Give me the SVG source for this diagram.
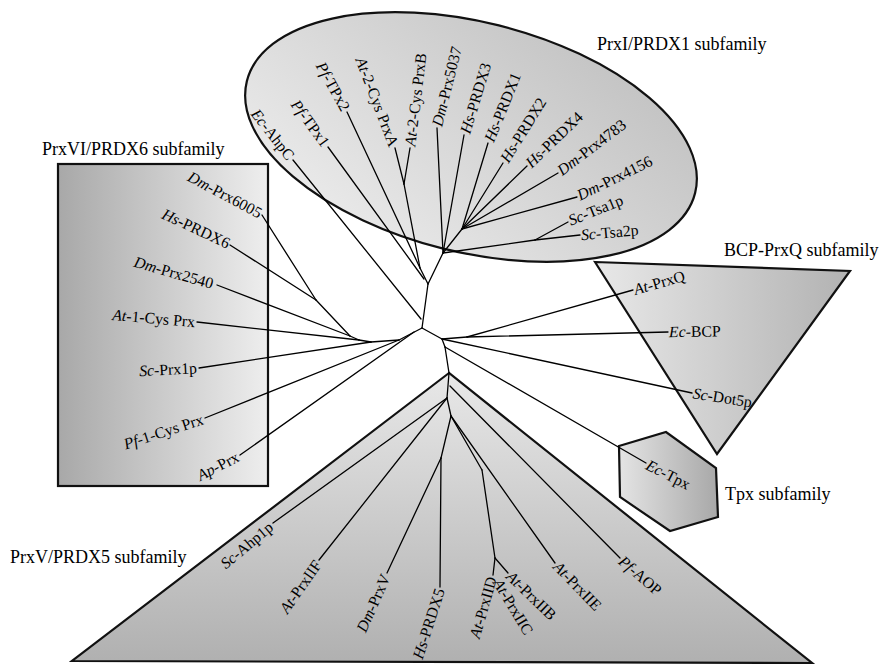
<svg xmlns="http://www.w3.org/2000/svg" width="885" height="667" viewBox="0 0 885 667">
<style>
text{font-family:"Liberation Serif","Times New Roman",serif;fill:#000}
.lf{font-size:15.8px}
.tt{font-size:18px}
.it{font-style:italic}
.shape{stroke:#111;stroke-width:2.2;stroke-linejoin:miter}
#connectors line{stroke:#000;stroke-width:1.3;fill:none;stroke-linecap:round}
</style>
<defs>
<linearGradient id="gEll" x1="0" y1="1" x2="1" y2="0"><stop offset="0" stop-color="#f0f0f0"/><stop offset="1" stop-color="#bdbdbd"/></linearGradient>
<linearGradient id="gBox" x1="0" y1="0" x2="1" y2="0"><stop offset="0" stop-color="#a8a8a8"/><stop offset="1" stop-color="#eeeeee"/></linearGradient>
<linearGradient id="gTri" x1="0" y1="0" x2="1" y2="0"><stop offset="0" stop-color="#e8e8e8"/><stop offset="1" stop-color="#b2b2b2"/></linearGradient>
<linearGradient id="gHex" x1="0" y1="0" x2="1" y2="0"><stop offset="0" stop-color="#e4e4e4"/><stop offset="1" stop-color="#a8a8a8"/></linearGradient>
<linearGradient id="gBot" x1="0" y1="0" x2="0" y2="1"><stop offset="0" stop-color="#e8e8e8"/><stop offset="1" stop-color="#b0b0b0"/></linearGradient>
</defs>

<g id="prx1-group">
<ellipse class="shape" cx="471" cy="137" rx="231" ry="115" transform="rotate(14 471 137)" fill="url(#gEll)"/>
<text class="tt" x="597" y="50">PrxI/PRDX1 subfamily</text>
</g>
<g id="prx6-group">
<rect class="shape" x="58" y="164" width="210" height="322" fill="url(#gBox)" stroke-width="2.6"/>
<text class="tt" x="42" y="155">PrxVI/PRDX6 subfamily</text>
</g>
<g id="bcp-group">
<polygon class="shape" points="595,262 850,271 717,454" fill="url(#gTri)"/>
<text class="tt" x="724" y="256">BCP-PrxQ subfamily</text>
</g>
<g id="tpx-group">
<polygon class="shape" points="619,446 666,432 716,468 718,517 670,531 620,497" fill="url(#gHex)"/>
<text class="tt" x="725" y="500">Tpx subfamily</text>
</g>
<g id="prx5-group">
<polygon class="shape" points="449,373 72,661 812,663" fill="url(#gBot)"/>
<text class="tt" x="10" y="563">PrxV/PRDX5 subfamily</text>
</g>

<g id="connectors">
<line x1="422" y1="328" x2="428" y2="284"/>
<line x1="293" y1="160" x2="421" y2="319"/>
<line x1="328" y1="147" x2="424" y2="279"/>
<line x1="347" y1="112" x2="420" y2="268"/>
<line x1="395" y1="148" x2="404" y2="184"/>
<line x1="410" y1="148" x2="404" y2="184"/>
<line x1="404" y1="184" x2="420" y2="268"/>
<line x1="420" y1="268" x2="428" y2="284"/>
<line x1="428" y1="284" x2="443" y2="253"/>
<line x1="443" y1="253" x2="437" y2="128"/>
<line x1="443" y1="253" x2="464" y2="135"/>
<line x1="443" y1="253" x2="462" y2="229"/>
<line x1="462" y1="229" x2="488" y2="143"/>
<line x1="462" y1="229" x2="503" y2="163"/>
<line x1="462" y1="229" x2="527" y2="166"/>
<line x1="462" y1="229" x2="558" y2="173"/>
<line x1="462" y1="229" x2="577" y2="197"/>
<line x1="443" y1="253" x2="535" y2="240"/>
<line x1="535" y1="240" x2="580" y2="235"/>
<line x1="535" y1="240" x2="568" y2="222"/>
<line x1="422" y1="328" x2="399" y2="340"/>
<line x1="399" y1="340" x2="371" y2="342"/>
<line x1="371" y1="342" x2="359" y2="340"/>
<line x1="359" y1="340" x2="350" y2="336"/>
<line x1="350" y1="336" x2="316" y2="300"/>
<line x1="316" y1="300" x2="262" y2="215"/>
<line x1="316" y1="300" x2="230" y2="245"/>
<line x1="350" y1="336" x2="217" y2="285"/>
<line x1="359" y1="340" x2="197" y2="322"/>
<line x1="371" y1="342" x2="199" y2="368"/>
<line x1="399" y1="340" x2="205" y2="418"/>
<line x1="414" y1="332" x2="240" y2="455"/>
<line x1="422" y1="328" x2="442" y2="339"/>
<line x1="442" y1="339" x2="467" y2="337"/>
<line x1="467" y1="337" x2="668" y2="332"/>
<line x1="467" y1="337" x2="633" y2="290"/>
<line x1="442" y1="339" x2="692" y2="393"/>
<line x1="442" y1="339" x2="445" y2="347"/>
<line x1="445" y1="347" x2="646" y2="463"/>
<line x1="445" y1="347" x2="449" y2="373"/>
<line x1="449" y1="373" x2="447" y2="398"/>
<line x1="450" y1="386" x2="620" y2="558"/>
<line x1="447" y1="398" x2="273" y2="523"/>
<line x1="447" y1="398" x2="319" y2="560"/>
<line x1="447" y1="398" x2="451" y2="416"/>
<line x1="451" y1="416" x2="555" y2="563"/>
<line x1="451" y1="416" x2="482" y2="470"/>
<line x1="451" y1="416" x2="441" y2="458"/>
<line x1="441" y1="458" x2="387" y2="573"/>
<line x1="441" y1="458" x2="440" y2="587"/>
<line x1="482" y1="470" x2="495" y2="558"/>
<line x1="495" y1="558" x2="493" y2="575"/>
<line x1="495" y1="558" x2="508" y2="573"/>
</g>

<g id="labels">
<text class="lf" text-anchor="end" transform="translate(291,158) rotate(52)" dy="0.33em"><tspan class="it">Ec</tspan>-AhpC</text>
<text class="lf" text-anchor="end" transform="translate(326,145) rotate(54)" dy="0.33em"><tspan class="it">Pf</tspan>-TPx1</text>
<text class="lf" text-anchor="end" transform="translate(346,110) rotate(61)" dy="0.33em"><tspan class="it">Pf</tspan>-TPx2</text>
<text class="lf" text-anchor="end" transform="translate(394,146) rotate(69)" dy="0.33em"><tspan class="it">At</tspan>-2-Cys PrxA</text>
<text class="lf" text-anchor="start" transform="translate(410,146) rotate(-83)" dy="0.33em"><tspan class="it">At</tspan>-2-Cys PrxB</text>
<text class="lf" text-anchor="start" transform="translate(437,126) rotate(-76)" dy="0.33em"><tspan class="it">Dm</tspan>-Prx5037</text>
<text class="lf" text-anchor="start" transform="translate(465,133) rotate(-73)" dy="0.33em"><tspan class="it">Hs</tspan>-PRDX3</text>
<text class="lf" text-anchor="start" transform="translate(489,141) rotate(-68)" dy="0.33em"><tspan class="it">Hs</tspan>-PRDX1</text>
<text class="lf" text-anchor="start" transform="translate(504,161) rotate(-58)" dy="0.33em"><tspan class="it">Hs</tspan>-PRDX2</text>
<text class="lf" text-anchor="start" transform="translate(528,165) rotate(-44)" dy="0.33em"><tspan class="it">Hs</tspan>-PRDX4</text>
<text class="lf" text-anchor="start" transform="translate(559,172) rotate(-37)" dy="0.33em"><tspan class="it">Dm</tspan>-Prx4783</text>
<text class="lf" text-anchor="start" transform="translate(578,196) rotate(-26)" dy="0.33em"><tspan class="it">Dm</tspan>-Prx4156</text>
<text class="lf" text-anchor="start" transform="translate(569,221) rotate(-22)" dy="0.33em"><tspan class="it">Sc</tspan>-Tsa1p</text>
<text class="lf" text-anchor="start" transform="translate(581,235) rotate(-5)" dy="0.33em"><tspan class="it">Sc</tspan>-Tsa2p</text>
<text class="lf" text-anchor="end" transform="translate(261,214) rotate(28)" dy="0.33em"><tspan class="it">Dm</tspan>-Prx6005</text>
<text class="lf" text-anchor="end" transform="translate(229,244) rotate(25)" dy="0.33em"><tspan class="it">Hs</tspan>-PRDX6</text>
<text class="lf" text-anchor="end" transform="translate(213,284) rotate(16)" dy="0.33em"><tspan class="it">Dm</tspan>-Prx2540</text>
<text class="lf" text-anchor="end" transform="translate(195,322) rotate(5)" dy="0.33em"><tspan class="it">At</tspan>-1-Cys Prx</text>
<text class="lf" text-anchor="end" transform="translate(197,368) rotate(-3)" dy="0.33em"><tspan class="it">Sc</tspan>-Prx1p</text>
<text class="lf" text-anchor="end" transform="translate(203,419) rotate(-18)" dy="0.33em"><tspan class="it">Pf</tspan>-1-Cys Prx</text>
<text class="lf" text-anchor="end" transform="translate(238,456) rotate(-27)" dy="0.33em"><tspan class="it">Ap</tspan>-Prx</text>
<text class="lf" text-anchor="end" transform="translate(271,525) rotate(-40)" dy="0.33em"><tspan class="it">Sc</tspan>-Ahp1p</text>
<text class="lf" text-anchor="end" transform="translate(318,562) rotate(-55)" dy="0.33em"><tspan class="it">At</tspan>-PrxIIF</text>
<text class="lf" text-anchor="end" transform="translate(386,575) rotate(-66)" dy="0.33em"><tspan class="it">Dm</tspan>-PrxV</text>
<text class="lf" text-anchor="end" transform="translate(440,589) rotate(-72)" dy="0.33em"><tspan class="it">Hs</tspan>-PRDX5</text>
<text class="lf" text-anchor="end" transform="translate(492,577) rotate(-74)" dy="0.33em"><tspan class="it">At</tspan>-PrxIID</text>
<text class="lf" text-anchor="start" transform="translate(497,580) rotate(59)" dy="0.33em"><tspan class="it">At</tspan>-PrxIIC</text>
<text class="lf" text-anchor="start" transform="translate(509,574) rotate(44)" dy="0.33em"><tspan class="it">At</tspan>-PrxIIB</text>
<text class="lf" text-anchor="start" transform="translate(556,564) rotate(46)" dy="0.33em"><tspan class="it">At</tspan>-PrxIIE</text>
<text class="lf" text-anchor="start" transform="translate(621,559) rotate(41)" dy="0.33em"><tspan class="it">Pf</tspan>-AOP</text>
<text class="lf" text-anchor="start" transform="translate(634,290) rotate(-16)" dy="0.33em"><tspan class="it">At</tspan>-PrxQ</text>
<text class="lf" text-anchor="start" transform="translate(669,332) rotate(-1)" dy="0.33em"><tspan class="it">Ec</tspan>-BCP</text>
<text class="lf" text-anchor="start" transform="translate(693,393) rotate(9)" dy="0.33em"><tspan class="it">Sc</tspan>-Dot5p</text>
<text class="lf" text-anchor="start" transform="translate(647,464) rotate(27)" dy="0.33em"><tspan class="it">Ec</tspan>-Tpx</text>
</g>
</svg>
